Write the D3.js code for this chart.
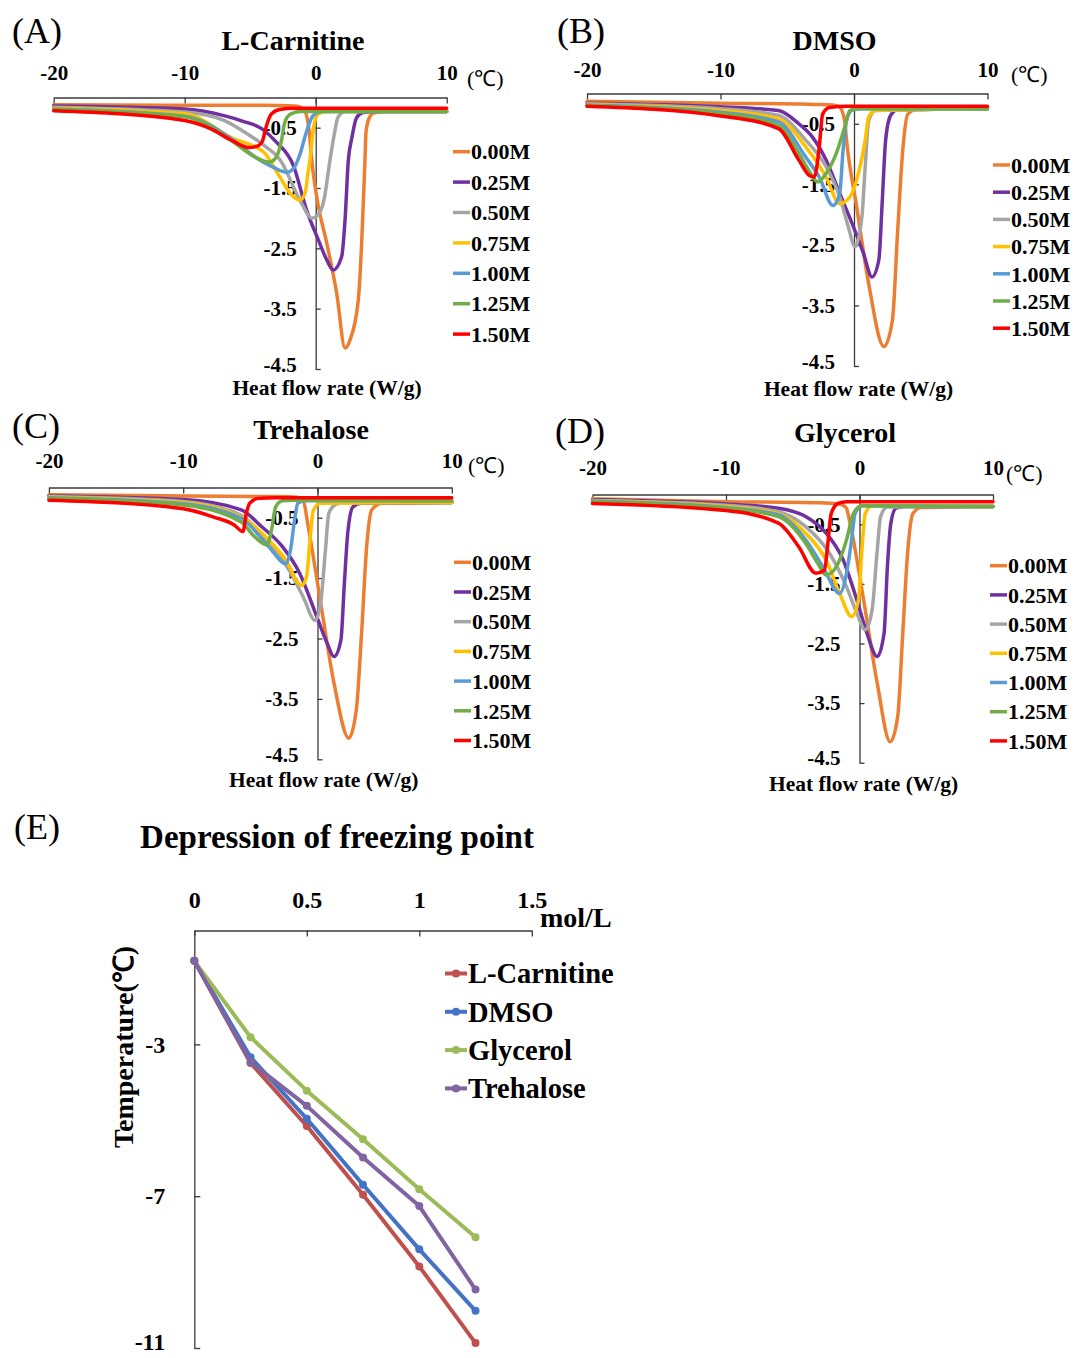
<!DOCTYPE html>
<html>
<head>
<meta charset="utf-8">
<script src="https://cdn.jsdelivr.net/npm/d3@7"></script>
<style>
  body { margin: 0; background: #fff; }
  svg text { font-family: "Liberation Serif", "Times New Roman", serif; }
</style>
</head>
<body>
<svg id="fig" width="1074" height="1358"></svg>
<script>
// ---- DSC panels (A-D): concentrations, colours, ticks ----
const concLabels = ["0.00M", "0.25M", "0.50M", "0.75M", "1.00M", "1.25M", "1.50M"];
const concColors = ["#ed7d31", "#7030a0", "#a5a5a5", "#ffc000", "#5b9bd5", "#70ad47", "#ff0000"];
const tempTicks = [-20, -10, 0, 10];
const heatTicks = [-0.5, -1.5, -2.5, -3.5, -4.5];

// each curve: [temperature (°C), heat flow rate (W/g)]
const lCarnitineCurves = [
  [[-20,-0.12],[-10,-0.13],[-4,-0.13],[-1.6,-0.14],[-0.9,-0.2],[-0.5,-0.55],[-0.3,-1.04],[0.12,-1.7],[0.84,-2.41],[1.6,-3.24],[2.24,-4.15],[2.62,-4.02],[3.25,-3.36],[3.51,-2.41],[3.76,-1.04],[3.84,-0.57],[4.1,-0.33],[4.4,-0.26],[5.2,-0.23],[10,-0.23]],
  [[-20,-0.14],[-10,-0.19],[-7,-0.3],[-5.6,-0.39],[-4.1,-0.52],[-3,-0.74],[-1.7,-1.13],[-0.69,-1.87],[0.2,-2.36],[0.84,-2.69],[1.34,-2.86],[1.98,-2.64],[2.24,-2.03],[2.49,-1.04],[2.75,-0.68],[3.13,-0.33],[3.63,-0.25],[5,-0.23],[10,-0.23]],
  [[-20,-0.16],[-10,-0.24],[-7,-0.38],[-5.6,-0.55],[-4.1,-0.77],[-2.7,-1.04],[-1.07,-1.76],[-0.31,-2.0],[0.15,-1.95],[0.63,-1.7],[1.09,-1.04],[1.4,-0.63],[1.7,-0.33],[2.24,-0.23],[10,-0.23]],
  [[-20,-0.18],[-10,-0.27],[-6.2,-0.69],[-4,-0.9],[-2.73,-1.32],[-1.9,-1.6],[-1.2,-1.7],[-0.82,-1.59],[-0.56,-1.21],[-0.44,-1.04],[-0.18,-0.52],[0.2,-0.27],[0.84,-0.23],[10,-0.23]],
  [[-20,-0.19],[-10,-0.31],[-6.2,-0.72],[-4.6,-0.99],[-3.3,-1.15],[-2.2,-1.24],[-1.7,-1.18],[-1.2,-0.94],[-0.75,-0.6],[-0.2,-0.3],[0.5,-0.23],[10,-0.23]],
  [[-20,-0.2],[-10,-0.32],[-6.2,-0.75],[-4.85,-0.96],[-3.54,-1.07],[-3.01,-0.99],[-2.62,-0.72],[-2.36,-0.41],[-1.97,-0.28],[-1.2,-0.23],[10,-0.23]],
  [[-20,-0.22],[-10,-0.38],[-8,-0.52],[-6.5,-0.7],[-5.1,-0.83],[-4.4,-0.8],[-4.06,-0.72],[-3.8,-0.5],[-3.41,-0.28],[-2.75,-0.2],[-1.7,-0.18],[10,-0.18]]
];

const dmsoCurves = [
  [[-20,-0.13],[-10,-0.16],[-3,-0.18],[-1.6,-0.19],[-1.1,-0.22],[-0.7,-0.45],[-0.56,-0.77],[0.2,-1.87],[1.1,-3.14],[2.24,-4.18],[2.88,-3.74],[3.26,-2.31],[3.65,-0.94],[4.03,-0.34],[4.79,-0.25],[10,-0.25]],
  [[-20,-0.16],[-10,-0.22],[-5.66,-0.28],[-4.13,-0.5],[-3.11,-0.72],[-2.09,-1.1],[-1.07,-1.65],[-0.05,-2.2],[0.71,-2.64],[1.35,-3.03],[1.86,-2.75],[2.12,-1.76],[2.37,-0.77],[2.75,-0.36],[3.26,-0.27],[10,-0.25]],
  [[-20,-0.17],[-10,-0.25],[-5.66,-0.36],[-3.62,-0.77],[-2.09,-1.21],[-1.07,-1.71],[-0.43,-2.2],[0.08,-2.53],[0.59,-2.04],[0.84,-1.21],[1.1,-0.45],[1.61,-0.28],[10,-0.25]],
  [[-20,-0.18],[-10,-0.28],[-5.66,-0.42],[-3.62,-0.88],[-2.09,-1.38],[-1.07,-1.82],[-0.31,-1.71],[0.33,-1.32],[0.84,-0.77],[1.1,-0.39],[1.61,-0.28],[10,-0.25]],
  [[-20,-0.19],[-10,-0.31],[-5.66,-0.47],[-3.62,-1.05],[-2.6,-1.38],[-1.58,-1.85],[-1.07,-1.65],[-0.82,-0.94],[-0.56,-0.45],[-0.18,-0.28],[0.46,-0.25],[10,-0.25]],
  [[-20,-0.2],[-10,-0.33],[-5.66,-0.53],[-4.13,-0.99],[-3.24,-1.32],[-2.73,-1.46],[-2.09,-1.32],[-1.33,-0.99],[-0.69,-0.55],[-0.31,-0.28],[0.2,-0.25],[10,-0.25]],
  [[-20,-0.21],[-10,-0.37],[-5.66,-0.58],[-4.13,-1.1],[-3.37,-1.35],[-2.98,-1.38],[-2.6,-0.88],[-2.35,-0.34],[-1.84,-0.23],[-0.56,-0.21],[10,-0.21]]
];

const trehaloseCurves = [
  [[-20,-0.12],[-10,-0.14],[-3,-0.15],[-1.5,-0.16],[-1.07,-0.21],[-0.69,-0.65],[0.2,-1.86],[1.23,-3.24],[2.33,-4.15],[2.89,-3.68],[3.28,-2.42],[3.66,-0.98],[4.04,-0.37],[4.81,-0.26],[10,-0.25]],
  [[-20,-0.14],[-10,-0.2],[-5.68,-0.37],[-4.15,-0.65],[-2.61,-0.98],[-1.33,-1.42],[-0.05,-2.14],[0.72,-2.58],[1.23,-2.8],[1.74,-2.53],[2.0,-1.59],[2.25,-0.76],[2.64,-0.32],[3.28,-0.26],[10,-0.25]],
  [[-20,-0.15],[-10,-0.23],[-5.68,-0.46],[-3.63,-0.93],[-2.1,-1.37],[-1.07,-1.81],[-0.18,-2.2],[0.2,-1.97],[0.59,-1.04],[0.84,-0.43],[1.36,-0.28],[2.0,-0.25],[10,-0.25]],
  [[-20,-0.16],[-10,-0.25],[-5.68,-0.49],[-3.63,-0.87],[-2.35,-1.2],[-1.2,-1.62],[-0.82,-1.48],[-0.56,-0.87],[-0.31,-0.38],[0.2,-0.26],[10,-0.25]],
  [[-20,-0.17],[-10,-0.27],[-5.68,-0.51],[-3.63,-0.98],[-2.35,-1.26],[-1.97,-0.98],[-1.71,-0.54],[-1.46,-0.26],[-0.95,-0.22],[10,-0.22]],
  [[-20,-0.18],[-10,-0.29],[-5.68,-0.57],[-4.66,-0.82],[-3.76,-0.95],[-3.38,-0.65],[-3.12,-0.32],[-2.61,-0.22],[-1.84,-0.21],[10,-0.22]],
  [[-20,-0.21],[-10,-0.35],[-7.73,-0.49],[-6.2,-0.62],[-5.55,-0.73],[-5.3,-0.43],[-5.04,-0.26],[-4.4,-0.18],[-3.12,-0.17],[10,-0.17]]
];

const glycerolCurves = [
  [[-20,-0.07],[-10,-0.12],[-3,-0.14],[-1.5,-0.16],[-1.0,-0.22],[-0.71,-0.48],[0.31,-1.77],[1.33,-3.17],[2.3,-4.15],[2.86,-3.73],[3.24,-2.33],[3.62,-0.93],[4.0,-0.32],[4.64,-0.22],[10,-0.2]],
  [[-20,-0.09],[-10,-0.16],[-6.07,-0.23],[-4.03,-0.37],[-2.5,-0.65],[-1.22,-1.1],[-0.2,-1.77],[0.56,-2.33],[1.33,-2.72],[1.84,-2.33],[2.09,-1.21],[2.35,-0.48],[2.73,-0.23],[3.37,-0.2],[10,-0.2]],
  [[-20,-0.1],[-10,-0.18],[-6.07,-0.29],[-4.03,-0.54],[-2.24,-0.99],[-0.97,-1.55],[-0.2,-1.99],[0.43,-2.27],[0.94,-1.94],[1.33,-0.93],[1.58,-0.37],[2.09,-0.21],[10,-0.2]],
  [[-20,-0.1],[-10,-0.2],[-6.07,-0.32],[-4.03,-0.65],[-2.5,-1.1],[-1.48,-1.66],[-0.59,-2.05],[-0.08,-1.77],[0.18,-0.93],[0.43,-0.32],[0.94,-0.19],[10,-0.2]],
  [[-20,-0.11],[-10,-0.22],[-6.07,-0.34],[-4.03,-0.76],[-2.75,-1.21],[-1.48,-1.66],[-0.97,-1.32],[-0.59,-0.76],[-0.33,-0.32],[0.18,-0.19],[10,-0.2]],
  [[-20,-0.12],[-10,-0.23],[-6.07,-0.37],[-4.03,-0.82],[-3.14,-1.15],[-2.5,-1.35],[-1.73,-1.21],[-0.97,-0.76],[-0.46,-0.32],[0.18,-0.19],[10,-0.2]],
  [[-20,-0.15],[-10,-0.27],[-6.07,-0.48],[-4.54,-0.88],[-3.27,-1.32],[-2.63,-1.27],[-2.37,-0.82],[-2.12,-0.32],[-1.61,-0.15],[-0.97,-0.12],[10,-0.12]]
];

// ---- Panel E: freezing point depression ----
const molConc = [0, 0.25, 0.5, 0.75, 1, 1.25];
const fpLCarnitine = [-0.8, -3.49, -5.15, -6.96, -8.85, -10.87];
const fpDmso = [-0.8, -3.34, -4.96, -6.70, -8.40, -10.02];
const fpGlycerol = [-0.8, -2.81, -4.22, -5.50, -6.82, -8.08];
const fpTrehalose = [-0.8, -3.47, -4.62, -5.98, -7.26, -9.46];
const fpNames = ["L-Carnitine", "DMSO", "Glycerol", "Trehalose"];
const fpColors = ["#c0504d", "#4472c4", "#9bbb59", "#8064a2"];
const molTicks = [0, 0.5, 1, 1.5];
const fpTicks = [-3, -7, -11];

const svg = d3.select("#fig");
svg.append("rect").attr("width", 1074).attr("height", 1358).attr("fill", "#fff");

const axisColor = "#3a3a3a";

function styleAxis(sel, size) {
  sel.attr("color", axisColor)
    .attr("font-family", null)
    .attr("font-size", null);
  sel.selectAll("path, line").attr("stroke-width", 1.3);
  sel.selectAll("text")
    .attr("fill", "#000")
    .style("font-size", size + "px")
    .style("font-weight", "bold");
}

function addText(x, y, str, size, opts = {}) {
  return svg.append("text")
    .attr("x", x).attr("y", y)
    .attr("text-anchor", opts.anchor || "start")
    .style("font-size", size + "px")
    .style("font-weight", opts.bold ? "bold" : "normal")
    .attr("fill", "#000")
    .text(str);
}

// layout of the four DSC panels (pixel positions only)
const dscPanels = [
  { letter: "(A)", lx: 12, ly: 43, title: "L-Carnitine", tx: 293, ty: 50, curves: lCarnitineCurves,
    xr: [53.7, 446.7], yr: [97.5, 369], tickPad: 18, ux: 467, uy: 86, hx: 327, hy: 395,
    legX: 453, legTop: 151.7, legStep: 30.4 },
  { letter: "(B)", lx: 557, ly: 43, title: "DMSO", tx: 834.5, ty: 50, curves: dmsoCurves,
    xr: [587, 987.5], yr: [93.5, 366], tickPad: 17, ux: 1011, uy: 82, hx: 858.5, hy: 396,
    legX: 993, legTop: 165, legStep: 27.2 },
  { letter: "(C)", lx: 12, ly: 438, title: "Trehalose", tx: 311, ty: 439, curves: trehaloseCurves,
    xr: [48.9, 451.8], yr: [487.5, 759.3], tickPad: 20, ux: 468, uy: 473, hx: 323.7, hy: 787,
    legX: 454, legTop: 562.3, legStep: 29.7 },
  { letter: "(D)", lx: 555, ly: 443, title: "Glycerol", tx: 845, ty: 442, curves: glycerolCurves,
    xr: [592.5, 993], yr: [494.5, 762.7], tickPad: 20, ux: 1006, uy: 481, hx: 863.6, hy: 791,
    legX: 990, legTop: 565.7, legStep: 29.2 }
];

function drawDsc(p) {
  const x = d3.scaleLinear().domain([-20, 10]).range(p.xr);
  const y = d3.scaleLinear().domain([0, -4.5]).range(p.yr);

  const xAxis = svg.append("g")
    .attr("transform", `translate(0,${y(0)})`)
    .call(d3.axisTop(x).tickValues(tempTicks).tickFormat(d => String(d))
      .tickSizeInner(-6).tickSizeOuter(0).tickPadding(p.tickPad));
  styleAxis(xAxis, 21);

  const yAxis = svg.append("g")
    .attr("transform", `translate(${x(0)},0)`)
    .call(d3.axisLeft(y).tickValues(heatTicks).tickFormat(d => String(d))
      .tickSizeInner(-5).tickSizeOuter(0).tickPadding(19));
  styleAxis(yAxis, 21);
  // lowest label sits a little higher so it clears the axis title
  yAxis.selectAll(".tick text").filter(d => d === -4.5).attr("dy", "0.1em");

  const line = d3.line()
    .x(d => x(d[0]))
    .y(d => y(d[1]))
    .curve(d3.curveMonotoneX);

  svg.append("g").selectAll("path")
    .data(p.curves)
    .join("path")
    .attr("d", line)
    .attr("fill", "none")
    .attr("stroke", (d, i) => concColors[i])
    .attr("stroke-width", 3.5)
    .attr("stroke-linejoin", "round")
    .attr("stroke-linecap", "round");

  addText(p.lx, p.ly, p.letter, 36);
  addText(p.tx, p.ty, p.title, 28, { bold: true, anchor: "middle" });
  addText(p.ux, p.uy, "(℃)", 22);
  addText(p.hx, p.hy, "Heat flow rate (W/g)", 21.5, { bold: true, anchor: "middle" });

  const leg = svg.append("g").selectAll("g")
    .data(concLabels)
    .join("g")
    .attr("transform", (d, i) => `translate(${p.legX},${p.legTop + i * p.legStep})`);
  leg.append("line")
    .attr("x1", 0).attr("x2", 17)
    .attr("stroke", (d, i) => concColors[i])
    .attr("stroke-width", 3.5);
  leg.append("text")
    .attr("x", 18).attr("dy", "0.35em")
    .style("font-size", "22px").style("font-weight", "bold")
    .attr("fill", "#000")
    .text(d => d);
}

dscPanels.forEach(drawDsc);

// ---- Panel E ----
(function drawFreezing() {
  const x = d3.scaleLinear().domain([0, 1.5]).range([194.3, 531.8]);
  const y = d3.scaleLinear().domain([0, -11]).range([930.5, 1348]);

  const xAxis = svg.append("g")
    .attr("transform", `translate(0,${y(0)})`)
    .call(d3.axisTop(x).tickValues(molTicks).tickFormat(d => String(d))
      .tickSizeInner(-6).tickSizeOuter(0).tickPadding(23));
  styleAxis(xAxis, 24);

  const yAxis = svg.append("g")
    .attr("transform", `translate(${x(0)},0)`)
    .call(d3.axisLeft(y).tickValues(fpTicks).tickFormat(d => String(d))
      .tickSizeInner(-6).tickSizeOuter(0).tickPadding(29));
  styleAxis(yAxis, 24);
  yAxis.selectAll(".tick text").filter(d => d === -11).attr("dy", "0.05em");

  const seriesVals = [fpLCarnitine, fpDmso, fpGlycerol, fpTrehalose];
  const series = seriesVals.map((vals, i) => ({
    name: fpNames[i], color: fpColors[i],
    points: molConc.map((c, j) => [c, vals[j]])
  }));

  const line = d3.line().x(d => x(d[0])).y(d => y(d[1]));

  const sg = svg.append("g").selectAll("g").data(series).join("g");
  sg.append("path")
    .attr("d", d => line(d.points))
    .attr("fill", "none")
    .attr("stroke", d => d.color)
    .attr("stroke-width", 4)
    .attr("stroke-linejoin", "round");
  sg.selectAll("circle")
    .data(d => d.points.map(pt => ({ pt, color: d.color })))
    .join("circle")
    .attr("cx", d => x(d.pt[0]))
    .attr("cy", d => y(d.pt[1]))
    .attr("r", 4)
    .attr("fill", d => d.color);

  addText(14, 839, "(E)", 36);
  addText(337, 848, "Depression of freezing point", 33, { bold: true, anchor: "middle" });
  addText(540, 927, "mol/L", 28, { bold: true });
  svg.append("text")
    .attr("transform", "translate(123,1047) rotate(-90)")
    .attr("text-anchor", "middle")
    .attr("dy", "0.35em")
    .style("font-size", "28px").style("font-weight", "bold")
    .attr("fill", "#000")
    .text("Temperature(℃)");

  const leg = svg.append("g").selectAll("g")
    .data(series)
    .join("g")
    .attr("transform", (d, i) => `translate(445,${973.5 + i * 38.3})`);
  leg.append("line")
    .attr("x1", 0).attr("x2", 22)
    .attr("stroke", d => d.color)
    .attr("stroke-width", 4);
  leg.append("circle")
    .attr("cx", 11).attr("r", 4)
    .attr("fill", d => d.color);
  leg.append("text")
    .attr("x", 23).attr("dy", "0.35em")
    .style("font-size", "28.5px").style("font-weight", "bold")
    .attr("fill", "#000")
    .text(d => d.name);
})();
</script>
</body>
</html>
